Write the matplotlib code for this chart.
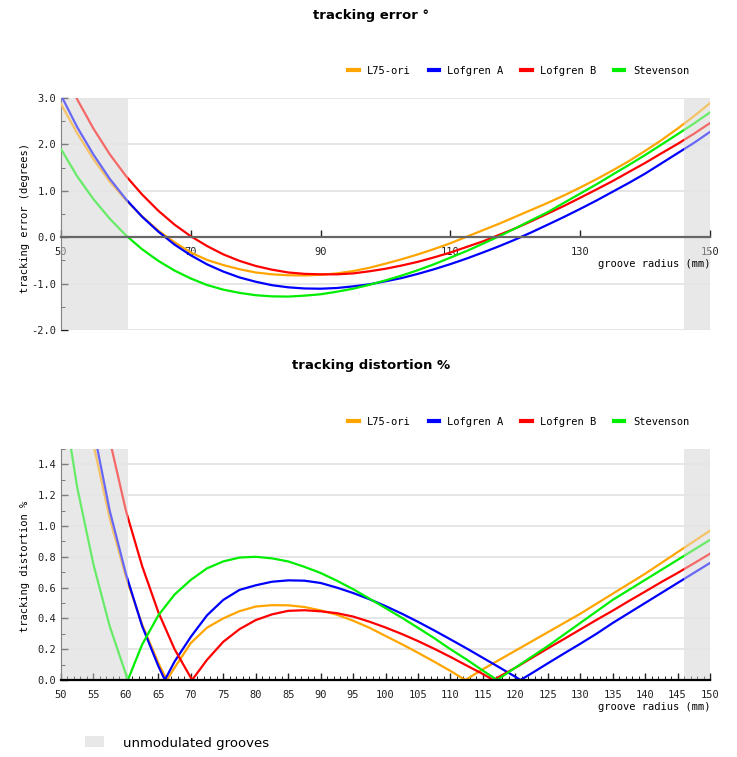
import matplotlib
matplotlib.use("Agg")
import matplotlib.pyplot as plt
from matplotlib.lines import Line2D
from matplotlib.patches import Patch
from matplotlib.ticker import MultipleLocator, FormatStrFormatter

# --- data --------------------------------------------------------------------
SERIES = ["L75-ori", "Lofgren A", "Lofgren B", "Stevenson"]
COLORS = ["#ffa500", "#0000ff", "#ff0000", "#00ee00"]

BAND_INNER = (50, 60.3)     # unmodulated grooves (mm)
BAND_OUTER = (146, 150)

# tracking error (degrees) vs groove radius (mm)
RADIUS_ERR = [50, 52.5, 55, 57.5, 60, 62.5, 65, 67.5, 70, 72.5,
              75, 77.5, 80, 82.5, 85, 87.5, 90, 92.5, 95, 97.5,
              100, 102.5, 105, 107.5, 110, 112.5, 115, 117.5, 120, 122.5,
              125, 127.5, 130, 132.5, 135, 137.5, 140, 142.5, 145, 147.5, 150]
ERR_L75 = [2.87, 2.24, 1.68, 1.20, 0.80, 0.45, 0.14, -0.11, -0.33, -0.49,
           -0.60, -0.69, -0.76, -0.80, -0.82, -0.825, -0.81, -0.78, -0.73, -0.66,
           -0.57, -0.475, -0.37, -0.255, -0.13, 0.01, 0.15, 0.29, 0.44, 0.59,
           0.74, 0.90, 1.07, 1.25, 1.44, 1.64, 1.86, 2.09, 2.34, 2.605, 2.89]
ERR_LOF_A = [3.06, 2.37, 1.78, 1.26, 0.82, 0.44, 0.12, -0.16, -0.39, -0.585,
             -0.74, -0.867, -0.96, -1.034, -1.08, -1.105, -1.11, -1.095, -1.06, -1.016,
             -0.95, -0.88, -0.79, -0.69, -0.58, -0.46, -0.33, -0.195, -0.05, 0.106,
             0.27, 0.436, 0.61, 0.79, 0.98, 1.17, 1.37, 1.59, 1.81, 2.03, 2.27]
ERR_LOF_B = [3.70, 2.97, 2.34, 1.79, 1.32, 0.92, 0.57, 0.27, 0.02, -0.19,
             -0.37, -0.51, -0.62, -0.70, -0.76, -0.79, -0.80, -0.80, -0.78, -0.735,
             -0.68, -0.61, -0.53, -0.434, -0.33, -0.21, -0.09, 0.05, 0.19, 0.346,
             0.51, 0.674, 0.85, 1.028, 1.21, 1.406, 1.60, 1.807, 2.01, 2.227, 2.46]
ERR_STEV = [1.90, 1.31, 0.82, 0.40, 0.04, -0.26, -0.51, -0.72, -0.89, -1.03,
            -1.13, -1.20, -1.25, -1.275, -1.28, -1.26, -1.23, -1.175, -1.11, -1.027,
            -0.93, -0.827, -0.71, -0.582, -0.44, -0.298, -0.14, 0.02, 0.19, 0.368,
            0.54, 0.742, 0.94, 1.139, 1.35, 1.557, 1.77, 1.994, 2.22, 2.447, 2.69]

# tracking distortion (%) - each series has its own null points
DIST_R_L75 = [50, 52.5, 55, 57.5, 60, 62.5, 65, 66.3, 67.5, 70,
              72.5, 75, 77.5, 80, 82.5, 85, 87.5, 90, 92.5, 95,
              97.5, 100, 102.5, 105, 107.5, 110, 112.3, 115, 117.5, 120,
              122.5, 125, 127.5, 130, 132.5, 135, 137.5, 140, 142.5, 145, 147.5, 150]
DIST_L75 = [2.88, 2.14, 1.53, 1.05, 0.67, 0.36, 0.11, 0.0, 0.08, 0.24,
            0.34, 0.40, 0.447, 0.477, 0.486, 0.485, 0.474, 0.452, 0.424, 0.385,
            0.34, 0.286, 0.233, 0.177, 0.119, 0.059, 0.0, 0.07, 0.13, 0.19,
            0.25, 0.31, 0.37, 0.43, 0.495, 0.56, 0.625, 0.69, 0.76, 0.83, 0.90, 0.97]
DIST_R_LOF_A = [50, 52.5, 55, 57.5, 60, 62.5, 65, 66.0, 67.5, 70,
                72.5, 75, 77.5, 80, 82.5, 85, 87.5, 90, 92.5, 95,
                97.5, 100, 102.5, 105, 107.5, 110, 112.5, 115, 117.5, 120,
                120.8, 122.5, 125, 127.5, 130, 132.5, 135, 137.5, 140, 142.5,
                145, 147.5, 150]
DIST_LOF_A = [3.07, 2.27, 1.63, 1.10, 0.69, 0.35, 0.09, 0.0, 0.12, 0.28,
              0.42, 0.52, 0.585, 0.615, 0.638, 0.647, 0.645, 0.63, 0.60, 0.565,
              0.525, 0.48, 0.431, 0.378, 0.322, 0.264, 0.205, 0.144, 0.083, 0.021,
              0.0, 0.043, 0.108, 0.172, 0.235, 0.30, 0.37, 0.435, 0.50, 0.565,
              0.63, 0.695, 0.76]
DIST_R_LOF_B = [50, 52.5, 55, 57.5, 60, 62.5, 65, 67.5, 70.2, 72.5,
                75, 77.5, 80, 82.5, 85, 87.5, 90, 92.5, 95, 97.5,
                100, 102.5, 105, 107.5, 110, 112.5, 115, 116.6, 117.5, 120,
                122.5, 125, 127.5, 130, 132.5, 135, 137.5, 140, 142.5, 145, 147.5, 150]
DIST_LOF_B = [3.71, 2.84, 2.14, 1.56, 1.10, 0.74, 0.44, 0.20, 0.0, 0.131,
              0.248, 0.33, 0.389, 0.426, 0.449, 0.453, 0.446, 0.434, 0.412, 0.379,
              0.341, 0.299, 0.253, 0.203, 0.150, 0.094, 0.039, 0.0, 0.021, 0.079,
              0.142, 0.205, 0.266, 0.328, 0.39, 0.45, 0.513, 0.574, 0.636, 0.695,
              0.757, 0.82]
DIST_R_STEV = [50, 52.5, 55, 57.5, 60.3, 62.5, 65, 67.5, 70, 72.5,
               75, 77.5, 80, 82.5, 85, 87.5, 90, 92.5, 95, 97.5,
               100, 102.5, 105, 107.5, 110, 112.5, 115, 117.2, 120, 122.5,
               125, 127.5, 130, 132.5, 135, 137.5, 140, 142.5, 145, 147.5, 150]
DIST_STEV = [1.91, 1.25, 0.75, 0.35, 0.0, 0.23, 0.42, 0.555, 0.65, 0.725,
             0.77, 0.795, 0.80, 0.79, 0.77, 0.735, 0.695, 0.645, 0.59, 0.529,
             0.467, 0.405, 0.339, 0.272, 0.20, 0.133, 0.061, 0.0, 0.08, 0.15,
             0.22, 0.295, 0.37, 0.445, 0.52, 0.585, 0.65, 0.715, 0.78, 0.845, 0.91]

ERR_ALL = [ERR_L75, ERR_LOF_A, ERR_LOF_B, ERR_STEV]
DIST_ALL = [(DIST_R_L75, DIST_L75), (DIST_R_LOF_A, DIST_LOF_A),
            (DIST_R_LOF_B, DIST_LOF_B), (DIST_R_STEV, DIST_STEV)]

# --- style -------------------------------------------------------------------
MONO = "DejaVu Sans Mono"
SANS = "DejaVu Sans"
BAND = "#e8e8e8"
GRID = "#e2e2e2"
plt.rcParams.update({"font.family": MONO, "font.size": 7.5})

W, H = 737, 757
fig = plt.figure(figsize=(W / 100, H / 100), dpi=100)


def px_axes(left, top, right, bottom):
    return fig.add_axes([left / W, 1 - bottom / H, (right - left) / W, (bottom - top) / H])


def shade_bands(ax):
    # band under the curves, then a translucent copy on top to fade them
    for lo, hi in (BAND_INNER, BAND_OUTER):
        ax.axvspan(lo, hi, color=BAND, lw=0, zorder=1)
        ax.axvspan(lo, hi, color=BAND, alpha=0.45, lw=0, zorder=4)


def series_legend(ax, y_px):
    handles = [Line2D([], [], color=c, lw=3) for c in COLORS]
    ax.legend(handles, SERIES, ncol=4, loc="center right",
              bbox_to_anchor=(689 / W, 1 - y_px / H), bbox_transform=fig.transFigure,
              frameon=False, handlelength=1.0, handletextpad=0.8, columnspacing=1.7,
              borderpad=0, borderaxespad=0, fontsize=7.5)


# === tracking error ==========================================================
ax1 = px_axes(61, 98, 710, 330)
for vals, c in zip(ERR_ALL, COLORS):
    ax1.plot(RADIUS_ERR, vals, color=c, lw=1.6, zorder=3)
shade_bands(ax1)
ax1.set_xlim(50, 150)
ax1.set_ylim(-2, 3)
ax1.set_xticks([50, 70, 90, 110, 130, 150])
ax1.yaxis.set_major_locator(MultipleLocator(1))
ax1.yaxis.set_minor_locator(MultipleLocator(0.5))
ax1.yaxis.set_major_formatter(FormatStrFormatter("%.1f"))
ax1.yaxis.grid(True, color=GRID, lw=1.2, zorder=0.5)
for s in ("top", "right"):
    ax1.spines[s].set_visible(False)
ax1.spines["left"].set_color("#333333")
ax1.spines["bottom"].set_position(("data", 0))
ax1.spines["bottom"].set_color("#666666")
ax1.spines["bottom"].set_linewidth(1.6)
ax1.spines["bottom"].set_zorder(5)
ax1.tick_params(direction="in", length=5, width=1, labelsize=7.5, colors="#222222")
ax1.tick_params(axis="y", which="minor", direction="in", length=3)
ax1.tick_params(axis="x", pad=7)
ax1.set_ylabel("tracking error (degrees)", fontsize=7.5)
ax1.yaxis.set_label_coords(-0.048, 0.483)
ax1.text(1.0, 0.284, "groove radius (mm)", transform=ax1.transAxes,
         ha="right", va="center", fontsize=7.5, zorder=6)
series_legend(ax1, 71)
fig.text(0.503, 1 - 16 / H, "tracking error \u00b0", ha="center", va="center",
         fontsize=9.5, fontweight="bold", family=SANS)

# === tracking distortion =====================================================
ax2 = px_axes(61, 449, 710, 680)
for (r, vals), c in zip(DIST_ALL, COLORS):
    ax2.plot(r, vals, color=c, lw=1.6, zorder=3)
shade_bands(ax2)
ax2.set_xlim(50, 150)
ax2.set_ylim(0, 1.5)
ax2.xaxis.set_major_locator(MultipleLocator(5))
ax2.xaxis.set_minor_locator(MultipleLocator(1))
ax2.set_yticks([0.0, 0.2, 0.4, 0.6, 0.8, 1.0, 1.2, 1.4])
ax2.yaxis.set_minor_locator(MultipleLocator(0.1))
ax2.yaxis.set_major_formatter(FormatStrFormatter("%.1f"))
ax2.yaxis.grid(True, color=GRID, lw=1.2, zorder=0.5)
for s in ("top", "right"):
    ax2.spines[s].set_visible(False)
ax2.spines["left"].set_color("#333333")
ax2.spines["bottom"].set_color("#000000")
ax2.spines["bottom"].set_linewidth(1.6)
ax2.spines["bottom"].set_zorder(5)
ax2.tick_params(direction="in", length=5, width=1, labelsize=7.5, colors="#222222")
ax2.tick_params(which="minor", direction="in", length=3)
ax2.tick_params(axis="x", pad=7)
ax2.set_ylabel("tracking distortion %", fontsize=7.5)
ax2.yaxis.set_label_coords(-0.048, 0.49)
ax2.text(1.0, -0.116, "groove radius (mm)", transform=ax2.transAxes,
         ha="right", va="center", fontsize=7.5, zorder=6)
series_legend(ax2, 422)
fig.text(0.503, 1 - 366 / H, "tracking distortion %", ha="center", va="center",
         fontsize=9.5, fontweight="bold", family=SANS)

# footer key for the shaded bands
fig.legend([Patch(facecolor=BAND, edgecolor="none")], ["unmodulated grooves"],
           loc="center left", bbox_to_anchor=(85 / W, 1 - 743 / H),
           frameon=False, handlelength=1.45, handleheight=0.9, handletextpad=1.45,
           borderpad=0, borderaxespad=0, prop={"family": SANS, "size": 9.5})

fig.savefig("out.png", dpi=100)
